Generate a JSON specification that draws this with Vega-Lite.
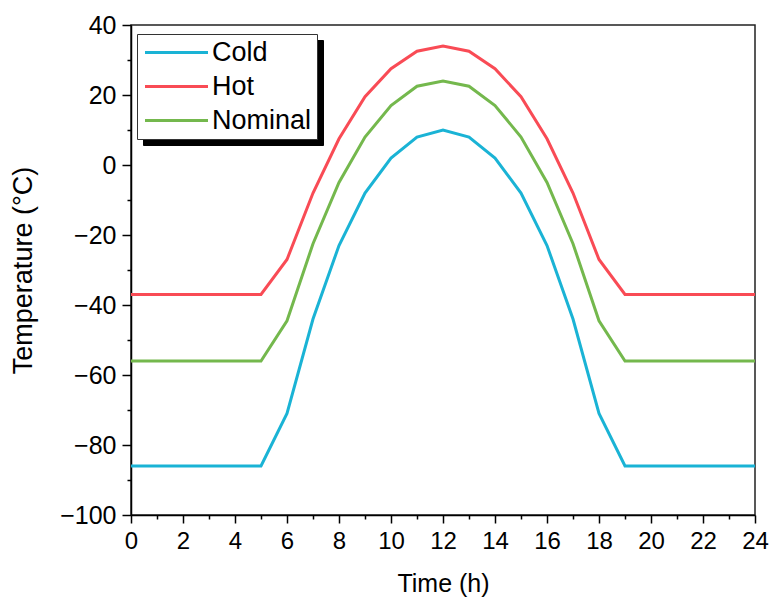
{
  "$schema": "https://vega.github.io/schema/vega-lite/v6.json",
  "autosize": "none",
  "padding": {"left": 131, "top": 25, "right": 18, "bottom": 86},
  "width": 624,
  "height": 490,
  "background": "white",
  "config": {
    "view": {"stroke": "#222222", "strokeWidth": 1.5},
    "font": "Liberation Sans"
  },
  "data": {
    "values": [
      {"t": 0, "s": "Cold", "v": -86}, {"t": 1, "s": "Cold", "v": -86}, {"t": 2, "s": "Cold", "v": -86}, {"t": 3, "s": "Cold", "v": -86}, {"t": 4, "s": "Cold", "v": -86}, {"t": 5, "s": "Cold", "v": -86},
      {"t": 6, "s": "Cold", "v": -71}, {"t": 7, "s": "Cold", "v": -44}, {"t": 8, "s": "Cold", "v": -23}, {"t": 9, "s": "Cold", "v": -8}, {"t": 10, "s": "Cold", "v": 2}, {"t": 11, "s": "Cold", "v": 8}, {"t": 12, "s": "Cold", "v": 10},
      {"t": 13, "s": "Cold", "v": 8}, {"t": 14, "s": "Cold", "v": 2}, {"t": 15, "s": "Cold", "v": -8}, {"t": 16, "s": "Cold", "v": -23}, {"t": 17, "s": "Cold", "v": -44}, {"t": 18, "s": "Cold", "v": -71},
      {"t": 19, "s": "Cold", "v": -86}, {"t": 20, "s": "Cold", "v": -86}, {"t": 21, "s": "Cold", "v": -86}, {"t": 22, "s": "Cold", "v": -86}, {"t": 23, "s": "Cold", "v": -86}, {"t": 24, "s": "Cold", "v": -86},
      {"t": 0, "s": "Hot", "v": -37}, {"t": 1, "s": "Hot", "v": -37}, {"t": 2, "s": "Hot", "v": -37}, {"t": 3, "s": "Hot", "v": -37}, {"t": 4, "s": "Hot", "v": -37}, {"t": 5, "s": "Hot", "v": -37},
      {"t": 6, "s": "Hot", "v": -27}, {"t": 7, "s": "Hot", "v": -8}, {"t": 8, "s": "Hot", "v": 7.5}, {"t": 9, "s": "Hot", "v": 19.5}, {"t": 10, "s": "Hot", "v": 27.5}, {"t": 11, "s": "Hot", "v": 32.5}, {"t": 12, "s": "Hot", "v": 34},
      {"t": 13, "s": "Hot", "v": 32.5}, {"t": 14, "s": "Hot", "v": 27.5}, {"t": 15, "s": "Hot", "v": 19.5}, {"t": 16, "s": "Hot", "v": 7.5}, {"t": 17, "s": "Hot", "v": -8}, {"t": 18, "s": "Hot", "v": -27},
      {"t": 19, "s": "Hot", "v": -37}, {"t": 20, "s": "Hot", "v": -37}, {"t": 21, "s": "Hot", "v": -37}, {"t": 22, "s": "Hot", "v": -37}, {"t": 23, "s": "Hot", "v": -37}, {"t": 24, "s": "Hot", "v": -37},
      {"t": 0, "s": "Nominal", "v": -56}, {"t": 1, "s": "Nominal", "v": -56}, {"t": 2, "s": "Nominal", "v": -56}, {"t": 3, "s": "Nominal", "v": -56}, {"t": 4, "s": "Nominal", "v": -56}, {"t": 5, "s": "Nominal", "v": -56},
      {"t": 6, "s": "Nominal", "v": -44.5}, {"t": 7, "s": "Nominal", "v": -22.5}, {"t": 8, "s": "Nominal", "v": -5}, {"t": 9, "s": "Nominal", "v": 8}, {"t": 10, "s": "Nominal", "v": 17}, {"t": 11, "s": "Nominal", "v": 22.5}, {"t": 12, "s": "Nominal", "v": 24},
      {"t": 13, "s": "Nominal", "v": 22.5}, {"t": 14, "s": "Nominal", "v": 17}, {"t": 15, "s": "Nominal", "v": 8}, {"t": 16, "s": "Nominal", "v": -5}, {"t": 17, "s": "Nominal", "v": -22.5}, {"t": 18, "s": "Nominal", "v": -44.5},
      {"t": 19, "s": "Nominal", "v": -56}, {"t": 20, "s": "Nominal", "v": -56}, {"t": 21, "s": "Nominal", "v": -56}, {"t": 22, "s": "Nominal", "v": -56}, {"t": 23, "s": "Nominal", "v": -56}, {"t": 24, "s": "Nominal", "v": -56}
    ]
  },
  "encoding": {
    "x": {
      "field": "t", "type": "quantitative",
      "scale": {"domain": [0, 24], "nice": false, "zero": false},
      "axis": {
        "title": "Time (h)",
        "values": [0,1,2,3,4,5,6,7,8,9,10,11,12,13,14,15,16,17,18,19,20,21,22,23,24],
        "labelExpr": "datum.value % 2 === 0 ? datum.label : ''",
        "tickSize": {"condition": {"test": "datum.value % 2 === 0", "value": 8}, "value": 4},
        "grid": false,
        "domainColor": "black", "domainWidth": 1.5,
        "tickColor": "black", "tickWidth": 1.5,
        "labelFontSize": 24, "labelColor": "black", "labelPadding": 6, "labelFlush": false,
        "titleFontSize": 25, "titleFontWeight": "normal", "titleColor": "black", "titlePadding": 18
      }
    },
    "y": {
      "field": "v", "type": "quantitative",
      "scale": {"domain": [-100, 40], "nice": false, "zero": false},
      "axis": {
        "title": "Temperature (°C)",
        "values": [-100,-90,-80,-70,-60,-50,-40,-30,-20,-10,0,10,20,30,40],
        "labelExpr": "datum.value % 20 === 0 ? datum.label : ''",
        "tickSize": {"condition": {"test": "datum.value % 20 === 0", "value": 9}, "value": 4},
        "grid": false,
        "domainColor": "black", "domainWidth": 1.5,
        "tickColor": "black", "tickWidth": 1.5,
        "labelFontSize": 25, "labelColor": "black", "labelPadding": 6,
        "titleFontSize": 27, "titleFontWeight": "normal", "titleColor": "black", "titlePadding": 22
      }
    }
  },
  "layer": [
    {
      "mark": {"type": "line", "strokeWidth": 3, "opacity": 0},
      "encoding": {
        "strokeDash": {
          "field": "s", "type": "nominal",
          "legend": {
            "title": null,
            "orient": "none", "legendX": 12, "legendY": 15, "zindex": 1,
            "symbolType": "M-1,0H5", "symbolSize": 441, "symbolStrokeWidth": 3,
            "symbolStrokeColor": "black", "symbolOpacity": 0,
            "labelExpr": "'\u00a0'",
            "labelFontSize": 27, "labelColor": "black", "labelOffset": 143,
            "padding": 5, "rowPadding": 6,
            "strokeColor": "black", "fillColor": "black"
          }
        }
      }
    },
    {
      "mark": {"type": "line", "strokeWidth": 3, "clip": true},
      "encoding": {
        "color": {
          "field": "s", "type": "nominal",
          "scale": {"domain": ["Cold", "Hot", "Nominal"], "range": ["#1ab3d5", "#f94b55", "#74b84d"]},
          "legend": {
            "title": null,
            "orient": "none", "legendX": 6, "legendY": 9, "zindex": 2,
            "symbolType": "M-1,0H5", "symbolSize": 441, "symbolStrokeWidth": 3,
            "labelFontSize": 27, "labelColor": "black", "labelOffset": 43,
            "padding": 5, "rowPadding": 6,
            "strokeColor": "#333333", "fillColor": "white"
          }
        }
      }
    }
  ]
}
